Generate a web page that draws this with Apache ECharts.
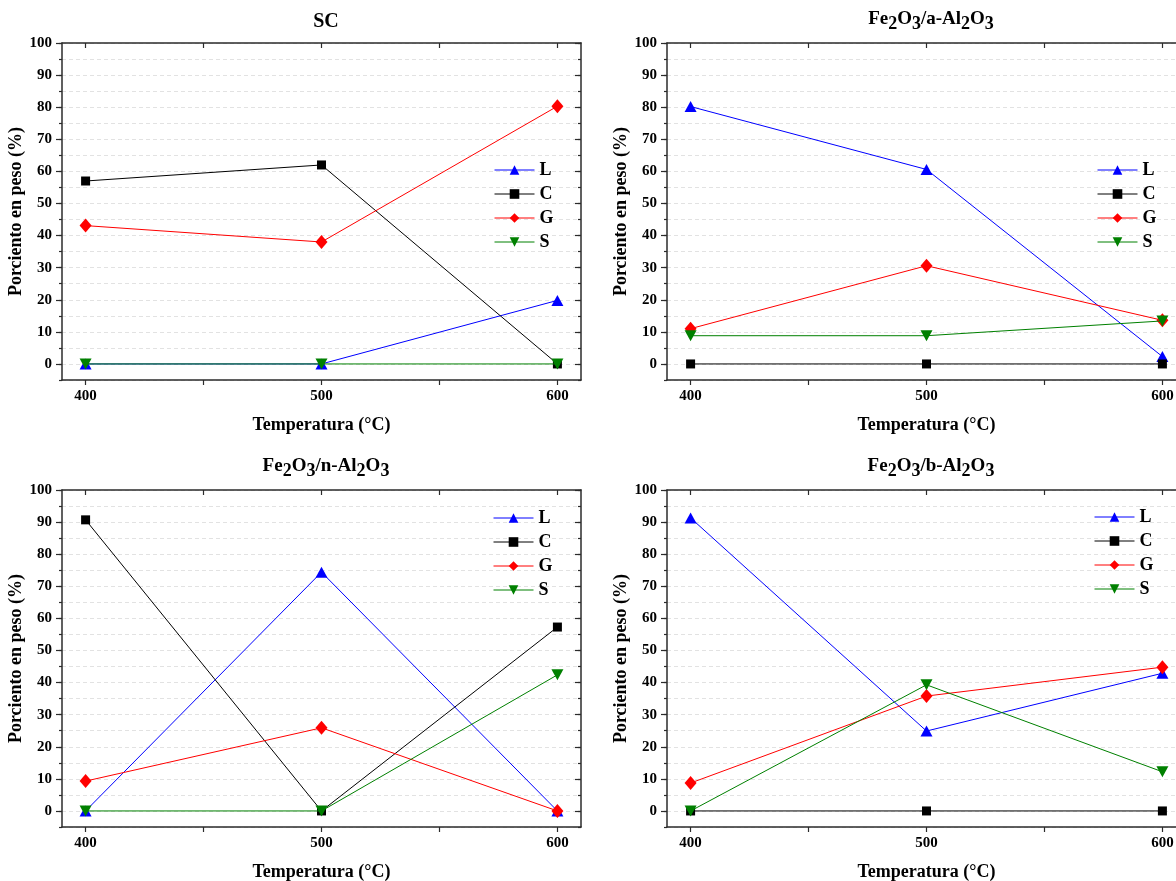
<!DOCTYPE html>
<html>
<head>
<meta charset="utf-8">
<title>Porciento en peso vs Temperatura</title>
<script src="https://cdn.jsdelivr.net/npm/echarts@6/dist/echarts.min.js"></script>
<style>
  html, body { margin: 0; padding: 0; background: #ffffff; }
  #chart { width: 1176px; height: 881px; }
</style>
</head>
<body>
<div id="chart"></div>
<script>
// ---- data ----
const temperatures = [400, 500, 600];
const xTickValues = [400, 450, 500, 550, 600];
const yLabelValues = [0, 10, 20, 30, 40, 50, 60, 70, 80, 90, 100];
const seriesNames = ['L', 'C', 'G', 'S'];

// SC
const scL = [0, 0, 19.8];
const scC = [57.0, 62.0, 0];
const scG = [43.1, 38.0, 80.3];
const scS = [0, 0, 0];

// Fe2O3/a-Al2O3
const aL = [80.2, 60.6, 2.3];
const aC = [0, 0, 0];
const aG = [11.0, 30.6, 13.6];
const aS = [8.8, 8.8, 13.4];

// Fe2O3/n-Al2O3
const nL = [0, 74.4, 0];
const nC = [90.7, 0, 57.3];
const nG = [9.3, 25.9, 0];
const nS = [0, 0, 42.4];

// Fe2O3/b-Al2O3
const bL = [91.3, 24.9, 42.9];
const bC = [0, 0, 0];
const bG = [8.7, 35.8, 44.8];
const bS = [0, 39.3, 12.2];

// ---- styling ----
const SERIF = "'Liberation Serif', 'Times New Roman', 'DejaVu Serif', serif";
const AXIS_COLOR = '#2b2b2b';
const styles = {
  L: { color: '#0000ff', symbol: 'triangle', symbolSize: [12, 11] },
  C: { color: '#000000', symbol: 'rect', symbolSize: [9, 9] },
  G: { color: '#ff0000', symbol: 'diamond', symbolSize: [12, 14] },
  S: { color: '#008000', symbol: 'path://M0,0L10,0L5,10Z', symbolSize: [12, 11] }
};

const plotW = 519, plotH = 337;
const panels = [
  { title: 'SC', values: [scL, scC, scG, scS], left: 62, top: 43, titleX: 321, titleTop: 7, legendLeft: 494, legendTop: 161 },
  { title: '{n|Fe}{s|2}{n|O}{s|3}{n|/a-Al}{s|2}{n|O}{s|3}', values: [aL, aC, aG, aS], left: 667, top: 43, titleX: 926, titleTop: 3, legendLeft: 1097, legendTop: 161 },
  { title: '{n|Fe}{s|2}{n|O}{s|3}{n|/n-Al}{s|2}{n|O}{s|3}', values: [nL, nC, nG, nS], left: 62, top: 490, titleX: 321, titleTop: 450, legendLeft: 493, legendTop: 509 },
  { title: '{n|Fe}{s|2}{n|O}{s|3}{n|/b-Al}{s|2}{n|O}{s|3}', values: [bL, bC, bG, bS], left: 667, top: 490, titleX: 926, titleTop: 450, legendLeft: 1094, legendTop: 508 }
];

const titleRich = {
  n: { fontFamily: SERIF, fontWeight: 'bold', fontSize: 19, color: '#000', lineHeight: 22 },
  s: { fontFamily: SERIF, fontWeight: 'bold', fontSize: 18, color: '#000', lineHeight: 22, padding: [10, 0, 0, 0] }
};

const labelText = { fontFamily: SERIF, fontWeight: 'bold', fontSize: 15, color: '#000' };
const nameText = { fontFamily: SERIF, fontWeight: 'bold', fontSize: 18, color: '#000' };
const axisLine = { show: true, onZero: false, lineStyle: { color: AXIS_COLOR, width: 1.5 } };
const tickLine = { color: AXIS_COLOR, width: 1.2 };

const grid = [], xAxis = [], yAxis = [], series = [], title = [], legend = [];

panels.forEach((p) => {
  const gMain = grid.length;
  // main grid: frame, major ticks, labels and data (the right column runs past the page edge)
  grid.push({ left: p.left, top: p.top, width: plotW, height: plotH, containLabel: false, outerBoundsMode: 'none' });
  // overlay grid: minor ticks and dashed grid lines
  const gMinor = grid.length;
  grid.push({ left: p.left, top: p.top, width: plotW, height: plotH, containLabel: false, outerBoundsMode: 'none' });

  const xMain = xAxis.length;
  xAxis.push({
    gridIndex: gMain, type: 'value', min: 390, max: 610, position: 'bottom',
    axisLine, axisTick: { show: true, inside: false, length: 5, customValues: xTickValues, lineStyle: tickLine },
    axisLabel: { customValues: temperatures, margin: 9, ...labelText },
    splitLine: { show: false },
    name: 'Temperatura (°C)', nameLocation: 'middle', nameGap: 36, nameTextStyle: nameText
  });
  xAxis.push({
    gridIndex: gMain, type: 'value', min: 390, max: 610, position: 'top',
    axisLine, axisTick: { show: true, inside: true, length: 5, customValues: xTickValues, lineStyle: tickLine },
    axisLabel: { show: false }, splitLine: { show: false }
  });
  xAxis.push({ gridIndex: gMinor, type: 'value', min: 390, max: 610, show: false });

  const yMain = yAxis.length;
  yAxis.push({
    gridIndex: gMain, type: 'value', min: -5, max: 100, position: 'left',
    axisLine, axisTick: { show: true, inside: false, length: 6, customValues: yLabelValues, lineStyle: tickLine },
    axisLabel: { customValues: yLabelValues, margin: 10, ...labelText },
    splitLine: { show: false },
    name: 'Porciento en peso (%)', nameLocation: 'middle', nameGap: 35, nameRotate: 90, nameTextStyle: nameText
  });
  yAxis.push({
    gridIndex: gMain, type: 'value', min: -5, max: 100, position: 'right',
    axisLine, axisTick: { show: true, inside: true, length: 6, customValues: yLabelValues, lineStyle: tickLine },
    axisLabel: { show: false }, splitLine: { show: false }
  });
  yAxis.push({
    gridIndex: gMinor, type: 'value', min: -5, max: 100, interval: 5, position: 'left',
    axisLine: { show: false }, axisTick: { show: true, inside: false, length: 3, lineStyle: tickLine },
    axisLabel: { show: false },
    splitLine: { show: true, lineStyle: { color: '#e2e2e2', width: 1, type: [4, 3] } }
  });
  yAxis.push({
    gridIndex: gMinor, type: 'value', min: -5, max: 100, interval: 5, position: 'right',
    axisLine: { show: false }, axisTick: { show: true, inside: true, length: 3, lineStyle: tickLine },
    axisLabel: { show: false }, splitLine: { show: false }
  });

  seriesNames.forEach((name, k) => {
    const st = styles[name];
    series.push({
      name, type: 'line', xAxisIndex: xMain, yAxisIndex: yMain,
      data: temperatures.map((t, j) => [t, p.values[k][j]]),
      symbol: st.symbol, symbolSize: st.symbolSize, showAllSymbol: true,
      lineStyle: { color: st.color, width: 1 },
      itemStyle: { color: st.color },
      emphasis: { disabled: true }, animation: false, z: 3 + k
    });
  });

  title.push({
    text: p.title, left: p.titleX, top: p.titleTop, textAlign: 'center',
    textStyle: { fontFamily: SERIF, fontWeight: 'bold', fontSize: 20, color: '#000', rich: titleRich }
  });

  legend.push({
    data: seriesNames, orient: 'vertical', left: p.legendLeft, top: p.legendTop,
    itemWidth: 40, itemHeight: 12, itemGap: 6, padding: 0,
    lineStyle: { width: 1 },
    textStyle: { fontFamily: SERIF, fontWeight: 'bold', fontSize: 18, color: '#000', lineHeight: 17 },
    selectedMode: false
  });
});

const chart = echarts.init(document.getElementById('chart'), null, { renderer: 'canvas' });
chart.setOption({
  backgroundColor: '#ffffff',
  animation: false,
  title, legend, grid, xAxis, yAxis, series
});
</script>
</body>
</html>
